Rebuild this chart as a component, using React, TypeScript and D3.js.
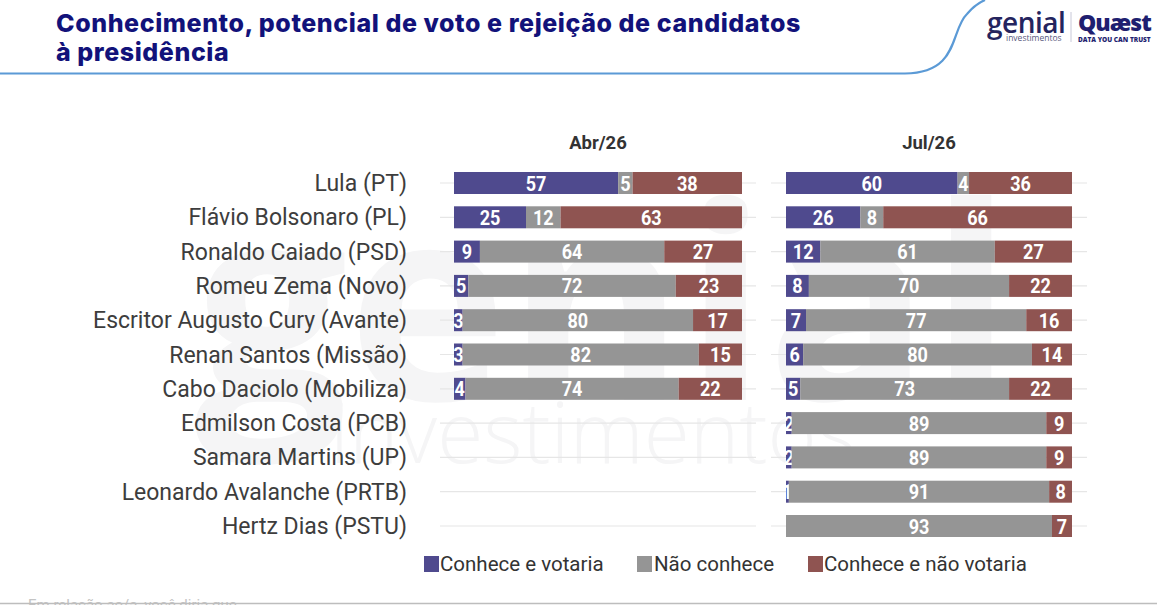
import React from "react";
import { scaleLinear, scalePoint } from "d3";

const candidates = [
  "Lula (PT)",
  "Flávio Bolsonaro (PL)",
  "Ronaldo Caiado (PSD)",
  "Romeu Zema (Novo)",
  "Escritor Augusto Cury (Avante)",
  "Renan Santos (Missão)",
  "Cabo Daciolo (Mobiliza)",
  "Edmilson Costa (PCB)",
  "Samara Martins (UP)",
  "Leonardo Avalanche (PRTB)",
  "Hertz Dias (PSTU)",
];

const seriesNames = ["Conhece e votaria", "Não conhece", "Conhece e não votaria"];
const colors = ["#4f4a8e", "#959595", "#8f5451"];

// Abr/26 (only the first seven candidates were asked)
const abrVotaria = [57, 25, 9, 5, 3, 3, 4];
const abrNaoConhece = [5, 12, 64, 72, 80, 82, 74];
const abrRejeita = [38, 63, 27, 23, 17, 15, 22];

// Jul/26
const julVotaria = [60, 26, 12, 8, 7, 6, 5, 2, 2, 1, 0];
const julNaoConhece = [4, 8, 61, 70, 77, 80, 73, 89, 89, 91, 93];
const julRejeita = [36, 66, 27, 22, 16, 14, 22, 9, 9, 8, 7];

const panels = [
  { title: "Abr/26", x0: 454, x1: 742, g0: 440, g1: 756, v: abrVotaria, n: abrNaoConhece, r: abrRejeita },
  { title: "Jul/26", x0: 786, x1: 1072, g0: 771, g1: 1087, v: julVotaria, n: julNaoConhece, r: julRejeita },
];

const W = 1157;
const H = 605;

export default function App() {
  const y = scalePoint<string>().domain(candidates).range([183, 526]);
  const barH = 22;

  return (
    <svg
      width={W}
      height={H}
      style={{ position: "absolute", left: 0, top: 0, display: "block", background: "#fff" }}
      fontFamily="Roboto, sans-serif"
    >
      {/* faint watermark */}
      <g fill="#f5f5f6">
        <text x={195} y={400} fontSize={270} fontWeight={700} fontFamily="'Open Sans', sans-serif">genial</text>
        <text x={330} y={463} fontSize={84} fontWeight={300} fontFamily="'Open Sans', sans-serif">investimentos</text>
      </g>

      {/* header */}
      <g fontFamily="Inter, sans-serif" fontSize={25} fontWeight={800} fill="#12127a" letterSpacing={0.57}>
        <text x={56} y={32}>Conhecimento, potencial de voto e rejeição de candidatos</text>
        <text x={56} y={61}>à presidência</text>
      </g>
      <path
        d="M0,73.5 L905,73.5 C960,73 950,30 967,14 C972,8 978,3 985,0"
        fill="none"
        stroke="#5b9ad6"
        strokeWidth={2.2}
      />

      {/* logos */}
      <text x={987} y={33} fontSize={28} fontWeight={600} fill="#24245e" fontFamily="'Open Sans', sans-serif" letterSpacing={-0.5}>genial</text>
      <text x={1006} y={41} fontSize={8.5} fill="#5a5a80" fontFamily="'Open Sans', sans-serif">investimentos</text>
      <line x1={1071} x2={1071} y1={12} y2={42} stroke="#c8c8d8" strokeWidth={1} />
      <text x={1078} y={31} fontSize={23} fontWeight={800} fill="#1f1f70" fontFamily="'Open Sans', sans-serif" letterSpacing={-1}>Quæst</text>
      <text x={1078} y={42} fontSize={6.5} fontWeight={800} fill="#1f1f70" fontFamily="'Open Sans', sans-serif">DATA YOU CAN TRUST</text>

      {/* candidate names */}
      {candidates.map((c) => (
        <text key={c} x={407} y={(y(c) ?? 0) + 8} textAnchor="end" fontSize={23} fill="#3d3d3d">
          {c}
        </text>
      ))}

      {panels.map((p) => {
        const x = scaleLinear().domain([0, 100]).range([p.x0, p.x1]);
        return (
          <g key={p.title}>
            <text x={(p.x0 + p.x1) / 2} y={149} textAnchor="middle" fontSize={18.5} fontWeight={700} fill="#333">
              {p.title}
            </text>
            {candidates.map((c) => (
              <line key={c} x1={p.g0} x2={p.g1} y1={y(c)} y2={y(c)} stroke="#e6e6e6" strokeWidth={1.2} />
            ))}
            {p.v.map((_, i) => {
              const vals = [p.v[i], p.n[i], p.r[i]];
              const cy = y(candidates[i]) ?? 0;
              let acc = 0;
              return (
                <g key={i}>
                  {vals.map((val, k) => {
                    const a = acc;
                    acc += val;
                    if (val <= 0) return null;
                    const xa = x(a);
                    const xb = x(a + val);
                    return (
                      <g key={k}>
                        <rect x={xa} y={cy - barH / 2} width={xb - xa} height={barH} fill={colors[k]} />
                        {/* narrowed bold digits */}
                        <text
                          transform={`translate(${(xa + xb) / 2},${cy + 7.5}) scale(0.86,1)`}
                          textAnchor="middle"
                          fontSize={21}
                          fontWeight={700}
                          fill="#fff"
                        >
                          {val}
                        </text>
                      </g>
                    );
                  })}
                </g>
              );
            })}
          </g>
        );
      })}

      {/* legend */}
      {[
        { sx: 424, tx: 440 },
        { sx: 637, tx: 654 },
        { sx: 808, tx: 824 },
      ].map((l, i) => (
        <g key={i}>
          <rect x={l.sx} y={556} width={15} height={16} fill={colors[i]} />
          <text x={l.tx} y={571} fontSize={20.5} fill="#333">
            {seriesNames[i]}
          </text>
        </g>
      ))}

      {/* footer */}
      <text x={28} y={610} fontSize={15} fill="#c4c4c4">Em relação ao/a, você diria que...</text>
      <line x1={0} x2={W} y1={603.5} y2={603.5} stroke="#bdbdbd" strokeWidth={1.5} />
    </svg>
  );
}
